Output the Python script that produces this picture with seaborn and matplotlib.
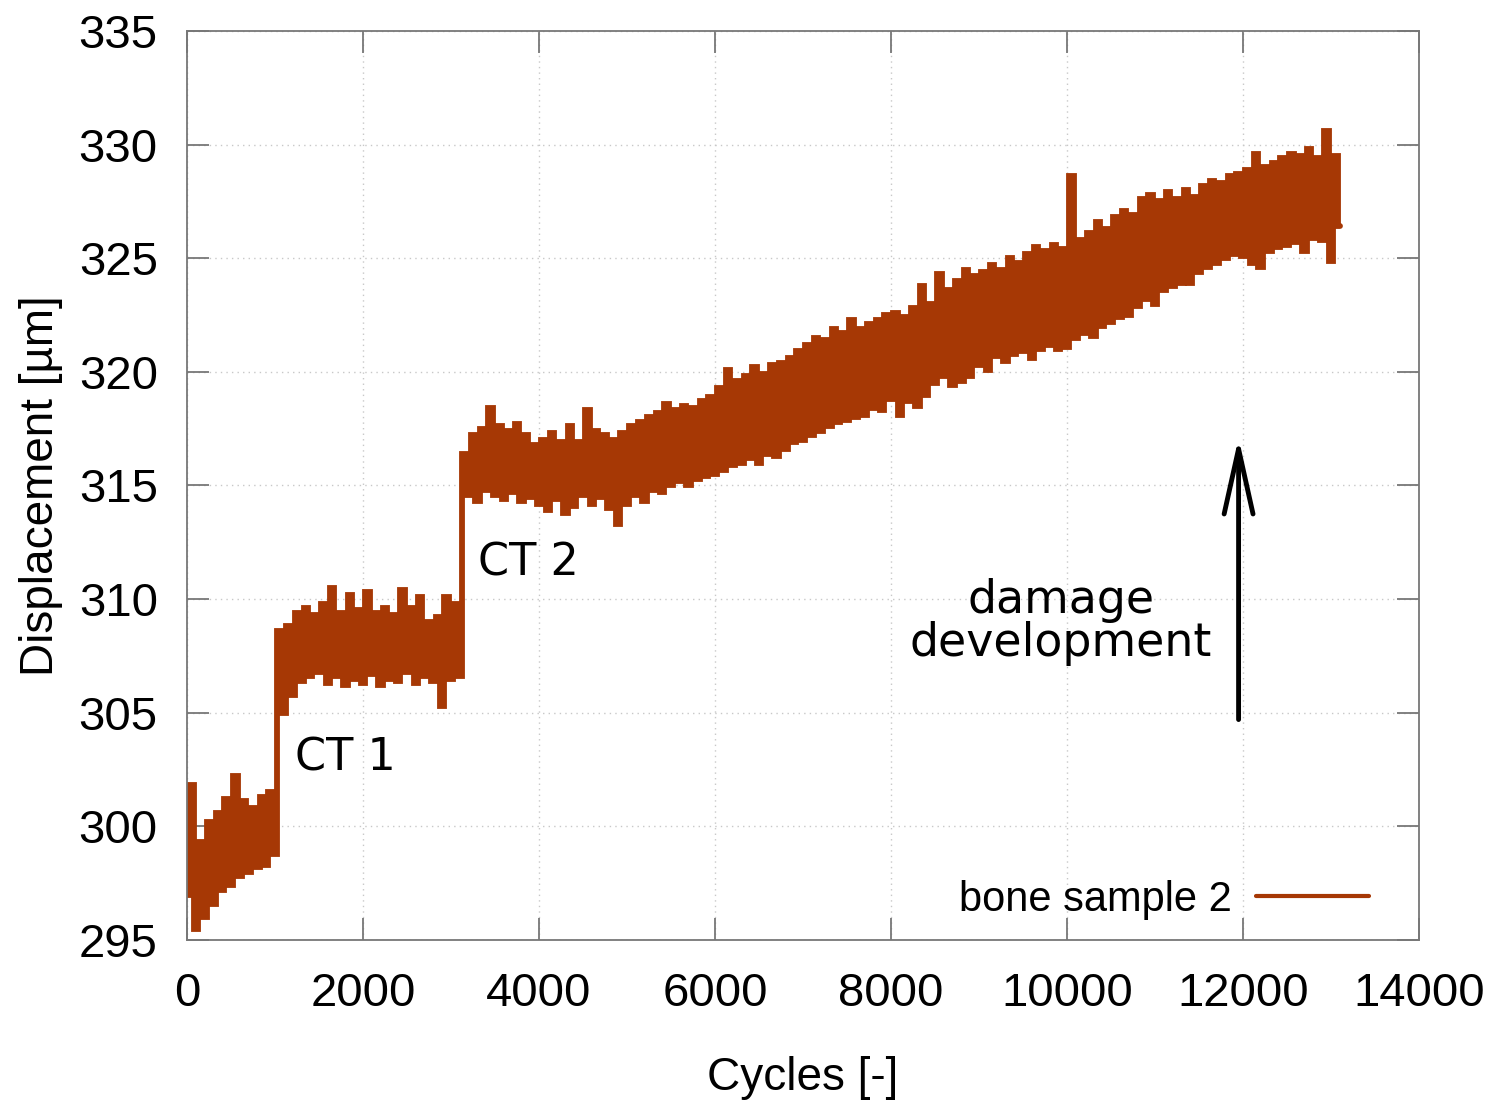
import matplotlib
matplotlib.use('Agg')
import matplotlib.pyplot as plt
import pandas as pd
import seaborn as sns

# ---------------- data ----------------
cycles = list(range(0, 13101, 50))
displacement = [
    297.0, 301.8, 295.5, 299.3, 296.0, 300.2, 296.6, 300.6, 297.2, 301.2,
    297.4, 302.2, 297.8, 301.1, 298.0, 300.8, 298.2, 301.3, 298.3, 301.5,
    298.8, 308.6, 305.0, 308.8, 305.8, 309.4, 306.4, 309.6, 306.6, 309.3,
    306.8, 309.8, 306.3, 310.5, 306.6, 309.4, 306.2, 310.2, 306.5, 309.5,
    306.3, 310.3, 306.7, 309.4, 306.2, 309.6, 306.5, 309.3, 306.4, 310.4,
    306.8, 309.6, 306.3, 310.1, 306.6, 309.0, 306.4, 309.2, 305.3, 310.1,
    306.5, 309.8, 306.6, 316.4, 314.6, 317.2, 314.3, 317.5, 314.8, 318.4,
    314.6, 317.6, 314.4, 317.4, 314.7, 317.7, 314.3, 317.2, 314.5, 316.8,
    314.2, 317.0, 313.9, 317.3, 314.4, 316.9, 313.8, 317.6, 314.1, 316.9,
    314.6, 318.3, 314.2, 317.4, 314.5, 317.2, 314.0, 317.0, 313.3, 317.3,
    314.2, 317.6, 314.6, 317.8, 314.3, 318.0, 314.8, 318.2, 314.7, 318.6,
    315.0, 318.3, 315.2, 318.5, 315.0, 318.4, 315.3, 318.7, 315.4, 318.9,
    315.5, 319.3, 315.7, 320.1, 315.9, 319.6, 316.0, 319.8, 316.2, 320.2,
    316.0, 319.9, 316.4, 320.3, 316.3, 320.4, 316.6, 320.6, 316.9, 320.9,
    317.0, 321.2, 317.2, 321.5, 317.4, 321.4, 317.6, 321.9, 317.8, 321.7,
    317.9, 322.3, 318.0, 321.9, 318.1, 322.1, 318.4, 322.3, 318.3, 322.5,
    318.8, 322.6, 318.1, 322.4, 318.7, 322.8, 318.5, 323.8, 319.0, 323.0,
    319.5, 324.3, 319.8, 323.6, 319.4, 324.0, 319.6, 324.5, 319.8, 324.2,
    320.3, 324.4, 320.1, 324.7, 320.7, 324.5, 320.5, 325.0, 320.8, 324.8,
    320.9, 325.2, 320.6, 325.5, 321.0, 325.3, 321.2, 325.6, 321.0, 325.4,
    321.1, 328.6, 321.5, 325.8, 321.7, 326.1, 321.6, 326.6, 322.0, 326.3,
    322.2, 326.8, 322.4, 327.1, 322.5, 326.9, 322.9, 327.6, 323.2, 327.8,
    323.0, 327.5, 323.6, 327.9, 323.8, 327.6, 323.9, 328.0, 323.9, 327.7,
    324.4, 328.2, 324.6, 328.4, 324.8, 328.3, 325.0, 328.6, 325.2, 328.7,
    325.1, 328.9, 324.8, 329.6, 324.6, 329.0, 325.3, 329.2, 325.5, 329.4,
    325.6, 329.6, 325.7, 329.5, 325.3, 329.8, 325.9, 329.4, 325.8, 330.6,
    324.9, 329.5, 326.4,
]
x_ticks = [0, 2000, 4000, 6000, 8000, 10000, 12000, 14000]
y_ticks = [295, 300, 305, 310, 315, 320, 325, 330, 335]
series_label = 'bone sample 2'
ct_labels = ['CT 1', 'CT 2']
ct_x = [1230, 3310]
ct_y = [303.0, 311.6]
damage_text = 'damage\ndevelopment'
damage_pos = (9930, 309.0)
arrow_x = 11950
arrow_y = (304.7, 317.1)

line_color = '#a63805'

# ---------------- plot ----------------
sns.set_theme(style='white')
plt.rcParams['font.family'] = ['Liberation Sans', 'DejaVu Sans']
plt.rcParams['text.color'] = 'black'

fig = plt.figure(figsize=(15.03, 11.03), dpi=100)
ax = fig.add_axes([0.1244, 0.1478, 0.8197, 0.8241])

df = pd.DataFrame({'Cycles': cycles, 'Displacement': displacement})
sns.lineplot(data=df, x='Cycles', y='Displacement', ax=ax, color=line_color,
             lw=4.2, estimator=None, sort=False, label=series_label,
             drawstyle='steps-mid', solid_joinstyle='miter')

ax.set_xlim(0, 14000)
ax.set_ylim(295, 335)
ax.set_xticks(x_ticks)
ax.set_yticks(y_ticks)
ax.set_xticklabels([str(v) for v in x_ticks])
ax.set_yticklabels([str(v) for v in y_ticks])

ax.grid(True, linestyle=(0, (1, 3)), color='#c8c8c8', lw=1.0)
ax.set_axisbelow(True)
for s in ax.spines.values():
    s.set_color('#777777')
    s.set_linewidth(1.3)
    s.set_visible(True)

ax.tick_params(direction='in', length=16, width=1.3, color='#777777',
               labelcolor='black', labelsize=34, top=True, right=True,
               bottom=True, left=True)
ax.tick_params(axis='y', pad=21)
ax.tick_params(axis='x', pad=23)

ax.set_xlabel('Cycles [-]', fontsize=33, labelpad=29, color='black')
ax.set_ylabel('Displacement [µm]', fontsize=33, labelpad=11, color='black')

for lab, xv, yv in zip(ct_labels, ct_x, ct_y):
    ax.text(xv, yv, lab, fontsize=32, family='DejaVu Sans', ha='left',
            va='center', color='black')
ax.text(damage_pos[0], damage_pos[1], damage_text, fontsize=33,
        family='DejaVu Sans', ha='center', va='center', color='black',
        linespacing=0.95)

ax.annotate('', xy=(arrow_x, arrow_y[1]), xytext=(arrow_x, arrow_y[0]),
            arrowprops=dict(arrowstyle='->,head_length=1.17,head_width=0.26',
                            lw=3.5, color='black', mutation_scale=40,
                            shrinkA=0, shrinkB=0, capstyle='round',
                            joinstyle='round'))

leg = ax.legend(loc='center right', bbox_to_anchor=(0.9594, 0.044),
                frameon=False, markerfirst=False, fontsize=30,
                handlelength=2.7, handletextpad=0.6, borderpad=0,
                borderaxespad=0, labelcolor='black')
for h in leg.get_lines():
    h.set_drawstyle('default')
    h.set_linewidth(3.0)

fig.savefig('out.png', dpi=100)
